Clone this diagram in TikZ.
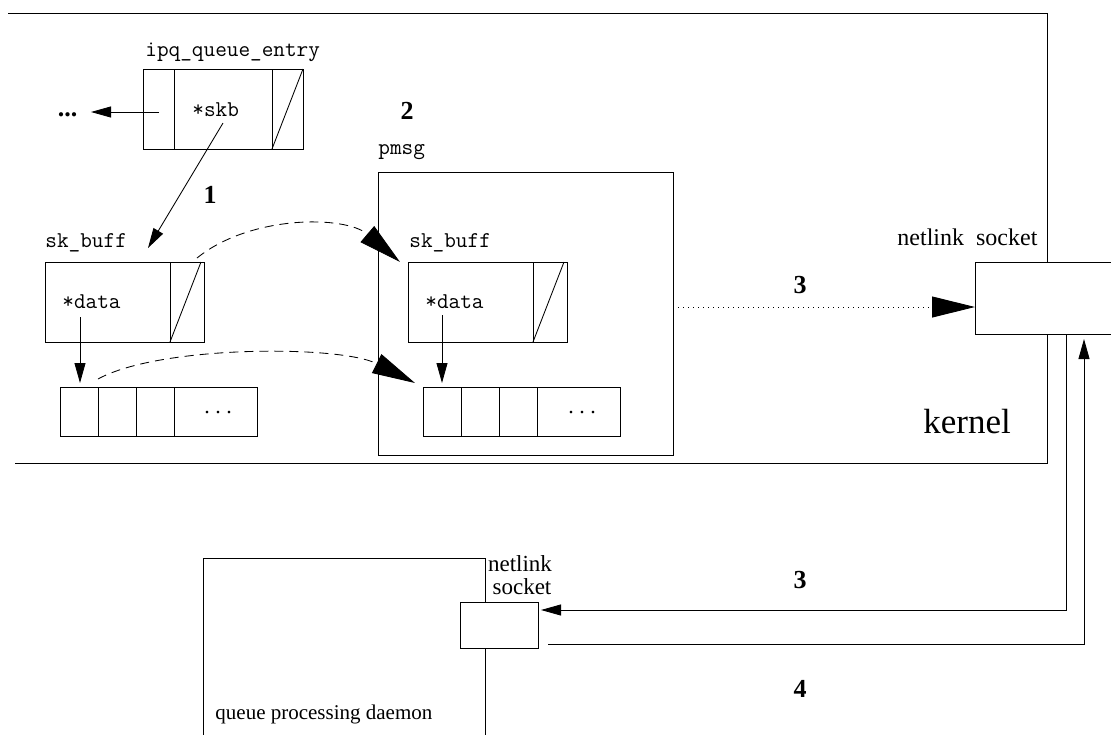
\documentclass[tikz,border=0pt]{standalone}
\usepackage{fontspec}
\setmainfont{Liberation Serif}
\usetikzlibrary{arrows.meta}
\begin{document}
\begin{tikzpicture}[x=1pt,y=-1pt,
  line width=0.85pt,
  box/.style={draw, rectangle, inner sep=0pt, outer sep=0pt, anchor=north west},
  mono/.style={font=\fontsize{22.6}{24}\selectfont\ttfamily, inner sep=0pt, anchor=base west},
  num/.style={font=\fontsize{26}{28}\selectfont\bfseries, inner sep=0pt, anchor=base},
  lbl/.style={font=\fontsize{24}{26}\selectfont, inner sep=0pt},
  ellip/.style={font=\fontsize{22}{24}\selectfont, inner sep=0pt},
  ptr/.style={-{Triangle[length=20pt,width=11pt]}},
  bigptr/.style={-{Triangle[length=43pt,width=21pt]}},
  dashline/.style={dash pattern=on 9pt off 6pt},
  dotline/.style={dash pattern=on 1pt off 4pt},
]
\useasboundingbox (0,0) rectangle (1111,734);
\clip (0,0) rectangle (1111,734);

% kernel area frame
\draw (8,13) -- (1047,13) -- (1047,262);
\draw (1047,334) -- (1047,463) -- (15,463);

% queue entry record
\node[box, minimum width=160pt, minimum height=80pt] (ipq) at (143,69) {};
\draw ([xshift=31pt]ipq.north west) -- ([xshift=31pt]ipq.south west);
\draw ([xshift=-31pt]ipq.north east) -- ([xshift=-31pt]ipq.south east);
\draw ([xshift=-31pt]ipq.south east) -- (ipq.north east);
\node[mono] (ipqlbl) at (145,56) {ipq\_queue\_entry};
\node[mono] (skbfield) at (192,116) {*skb};
\node[font=\fontsize{26}{28}\selectfont\bfseries, inner sep=0pt, anchor=base] (more) at (67.5,116) {...};

% sk_buff on the left
\node[box, minimum width=159pt, minimum height=80pt] (skbA) at (45,262) {};
\draw ([xshift=-34pt]skbA.north east) -- ([xshift=-34pt]skbA.south east);
\draw ([xshift=-34pt]skbA.south east) -- ([xshift=-3pt]skbA.north east);
\node[mono] (skbAlbl) at (45,247) {sk\_buff};
\node[mono] (dataA) at (62,308) {*data};

% data array on the left
\node[box, minimum width=197pt, minimum height=49pt] (arrA) at (60,387) {};
\foreach \d in {38,76,114}
  \draw ([xshift=\d pt]arrA.north west) -- ([xshift=\d pt]arrA.south west);
\node[ellip] (ellA) at (218,413) {.\ .\ .};

% pmsg container
\node[box, minimum width=295pt, minimum height=283pt] (pmsg) at (378,172) {};
\node[mono] (pmsglbl) at (378,154) {pmsg};
\node[num] (n2) at (407,119) {2};

% sk_buff copy inside pmsg
\node[box, minimum width=159pt, minimum height=80pt] (skbB) at (408,262) {};
\draw ([xshift=-34pt]skbB.north east) -- ([xshift=-34pt]skbB.south east);
\draw ([xshift=-34pt]skbB.south east) -- ([xshift=-3pt]skbB.north east);
\node[mono] (skbBlbl) at (409,247) {sk\_buff};
\node[mono] (dataB) at (425,308) {*data};

% data array copy inside pmsg
\node[box, minimum width=197pt, minimum height=49pt] (arrB) at (423,387) {};
\foreach \d in {38,76,114}
  \draw ([xshift=\d pt]arrB.north west) -- ([xshift=\d pt]arrB.south west);
\node[ellip] (ellB) at (582,413) {.\ .\ .};

% kernel side netlink socket
\node[box, minimum width=200pt, minimum height=72pt] (nlk) at (975,262) {};
\node[lbl, anchor=base west] (nlklbl) at (897,245) {netlink\hspace{0.5em}socket};
\node[font=\fontsize{35}{38}\selectfont, inner sep=0pt, anchor=base west] (kern) at (923,433) {kernel};

% user space daemon and its socket
\node[box, minimum width=78pt, minimum height=46pt] (nlu) at (460,602) {};
\draw (485,602) -- (485,558) -- (203,558) -- (203,740);
\draw (485,648) -- (485,740);
\node[lbl, font=\fontsize{23}{24}\selectfont, anchor=base] (nlulbl1) at (520,571) {netlink};
\node[lbl, font=\fontsize{23}{24}\selectfont, anchor=base] (nlulbl2) at (522,594) {socket};
\node[font=\fontsize{21}{23}\selectfont, inner sep=0pt, anchor=base west] (dlbl) at (215,719) {queue processing daemon};

% step labels
\node[num] (n1) at (210,203) {1};
\node[num] (n3a) at (800,293) {3};
\node[num] (n3b) at (800,588) {3};
\node[num] (n4) at (800,697) {4};

% connector end points
\coordinate (prevfrom) at (159,112);
\coordinate (previn) at (91,112);
\coordinate (skbfrom) at (223,123);
\coordinate (skbin) at (148,248);
\coordinate (dataAfrom) at (80,317);
\coordinate (dataAin) at (80,383);
\coordinate (dataBfrom) at (442,315);
\coordinate (dataBin) at (442,383);
\coordinate (cpyAfrom) at (197,258);
\coordinate (cpyAin) at (400,262);
\coordinate (cpyBfrom) at (98,379);
\coordinate (cpyBin) at (415,383);
\coordinate (sendfrom) at (678,307);
\coordinate (sendin) at ([yshift=-9pt]nlk.west);
\coordinate (downfrom) at ([xshift=91pt]nlk.south west);
\coordinate (downin) at (541,610);
\coordinate (upfrom) at (548,644);
\coordinate (upin) at (1084,339);

% pointers
\draw[ptr] (prevfrom) -- (previn);
\draw[ptr] (skbfrom) -- (skbin);
\draw[ptr] (dataAfrom) -- (dataAin);
\draw[ptr] (dataBfrom) -- (dataBin);

% copying into pmsg
\draw[bigptr, dashline] (cpyAfrom) .. controls (250,215) and (345,215) .. (cpyAin);
\draw[bigptr, dashline] (cpyBfrom) .. controls (160,345) and (340,345) .. (cpyBin);

% message to the netlink socket
\draw[bigptr, dotline] (sendfrom) -- (sendin);

% between kernel and daemon
\draw[ptr] (downfrom) |- (downin);
\draw[ptr] (upfrom) -| (upin);
\end{tikzpicture}
\end{document}
